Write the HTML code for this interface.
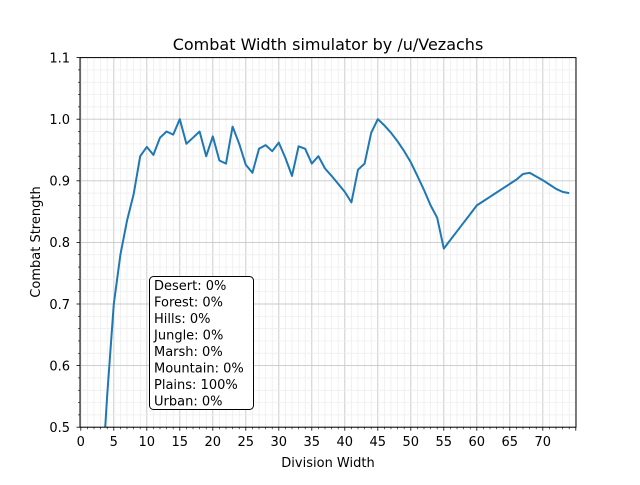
<!DOCTYPE html>
<html><head><meta charset="utf-8"><style>
body{margin:0;background:#fff}
svg text{font-family:"DejaVu Sans","Liberation Sans",sans-serif;fill:#000}
</style></head><body>
<svg id="s" width="640" height="480" viewBox="0 0 640 480" xmlns="http://www.w3.org/2000/svg">
<rect width="640" height="480" fill="#fff"/>
<g id="grid"></g>
<polyline id="line" fill="none" stroke="#1f77b4" stroke-width="2" stroke-linejoin="round" clip-path="url(#c)"/>
<clipPath id="c"><rect x="80" y="57.6" width="496" height="369.6"/></clipPath>
<rect x="80" y="57.6" width="496" height="369.6" fill="none" stroke="#000" stroke-width="1"/>
<g id="ticks"></g>
<text x="328" y="50" font-size="16" text-anchor="middle">Combat Width simulator by /u/Vezachs</text>
<text x="328" y="467" font-size="13" text-anchor="middle">Division Width</text>
<text transform="translate(40,242) rotate(-90)" font-size="13" text-anchor="middle">Combat Strength</text>
<g font-size="13" text-anchor="middle" id="xl"></g>
<g font-size="13" text-anchor="end">
<text x="70" y="432">0.5</text><text x="70" y="370.4">0.6</text><text x="70" y="308.8">0.7</text><text x="70" y="247.2">0.8</text><text x="70" y="185.6">0.9</text><text x="70" y="124">1.0</text><text x="70" y="62.4">1.1</text>
</g>
<rect x="149.5" y="276.5" width="104" height="133" rx="4" fill="#fff" stroke="#000" stroke-width="1"/>
<g font-size="13">
<text x="154" y="290">Desert: 0%</text>
<text x="154" y="306.5">Forest: 0%</text>
<text x="154" y="323">Hills: 0%</text>
<text x="154" y="339.5">Jungle: 0%</text>
<text x="154" y="356">Marsh: 0%</text>
<text x="154" y="372.5">Mountain: 0%</text>
<text x="154" y="389">Plains: 100%</text>
<text x="154" y="405.5">Urban: 0%</text>
</g>
</svg>
<script>
var X=function(v){return 80.8+6.6*v},Y=function(v){return 427.2-(v-0.5)*616};
var g='',t='',l='';
for(var i=0;i<=75;i++){var x=X(i);g+='<line x1="'+x+'" x2="'+x+'" y1="57.6" y2="427.2" stroke="'+(i%5==0?'#c8c8c8':'#ececec')+'" stroke-width="'+(i%5==0?0.9:0.7)+'"/>';
t+='<line x1="'+x+'" x2="'+x+'" y1="427.2" y2="'+(i%5==0?430.7:429.2)+'" stroke="#000" stroke-width="'+(i%5==0?0.8:0.6)+'"/>';
if(i%5==0&&i<75)l+='<text x="'+x+'" y="446">'+i+'</text>';}
for(var j=0;j<=30;j++){var v=0.5+j*0.02,y=Y(v);g+='<line x1="80" x2="576" y1="'+y+'" y2="'+y+'" stroke="'+(j%5==0?'#c8c8c8':'#ececec')+'" stroke-width="'+(j%5==0?0.9:0.7)+'"/>';
t+='<line x1="'+(j%5==0?76.5:78)+'" x2="80" y1="'+y+'" y2="'+y+'" stroke="#000" stroke-width="'+(j%5==0?0.8:0.6)+'"/>';}
document.getElementById('grid').innerHTML=g;document.getElementById('ticks').innerHTML=t;document.getElementById('xl').innerHTML=l;
var d={3:0.379,4:0.552,5:0.70,6:0.78,7:0.835,8:0.878,9:0.94,10:0.955,11:0.942,12:0.97,13:0.98,14:0.975,15:1.0,16:0.96,17:0.97,18:0.98,19:0.94,20:0.972,21:0.933,22:0.928,23:0.988,24:0.96,25:0.926,26:0.913,27:0.952,28:0.958,29:0.948,30:0.962,31:0.937,32:0.908,33:0.956,34:0.952,35:0.928,36:0.94,37:0.92,38:0.908,39:0.895,40:0.882,41:0.865,42:0.918,43:0.928,44:0.978,45:1.0,46:0.99,47:0.978,48:0.964,49:0.948,50:0.93,51:0.908,52:0.885,53:0.86,54:0.84,55:0.79,56:0.804,57:0.818,58:0.832,59:0.846,60:0.86,61:0.867,62:0.874,63:0.881,64:0.888,65:0.895,66:0.902,67:0.911,68:0.913,69:0.907,70:0.901,71:0.894,72:0.887,73:0.882,74:0.88};
var p=[];for(var k=3;k<=74;k++)p.push(X(k).toFixed(1)+','+Y(d[k]).toFixed(1));
document.getElementById('line').setAttribute('points',p.join(' '));
</script>
</body></html>
